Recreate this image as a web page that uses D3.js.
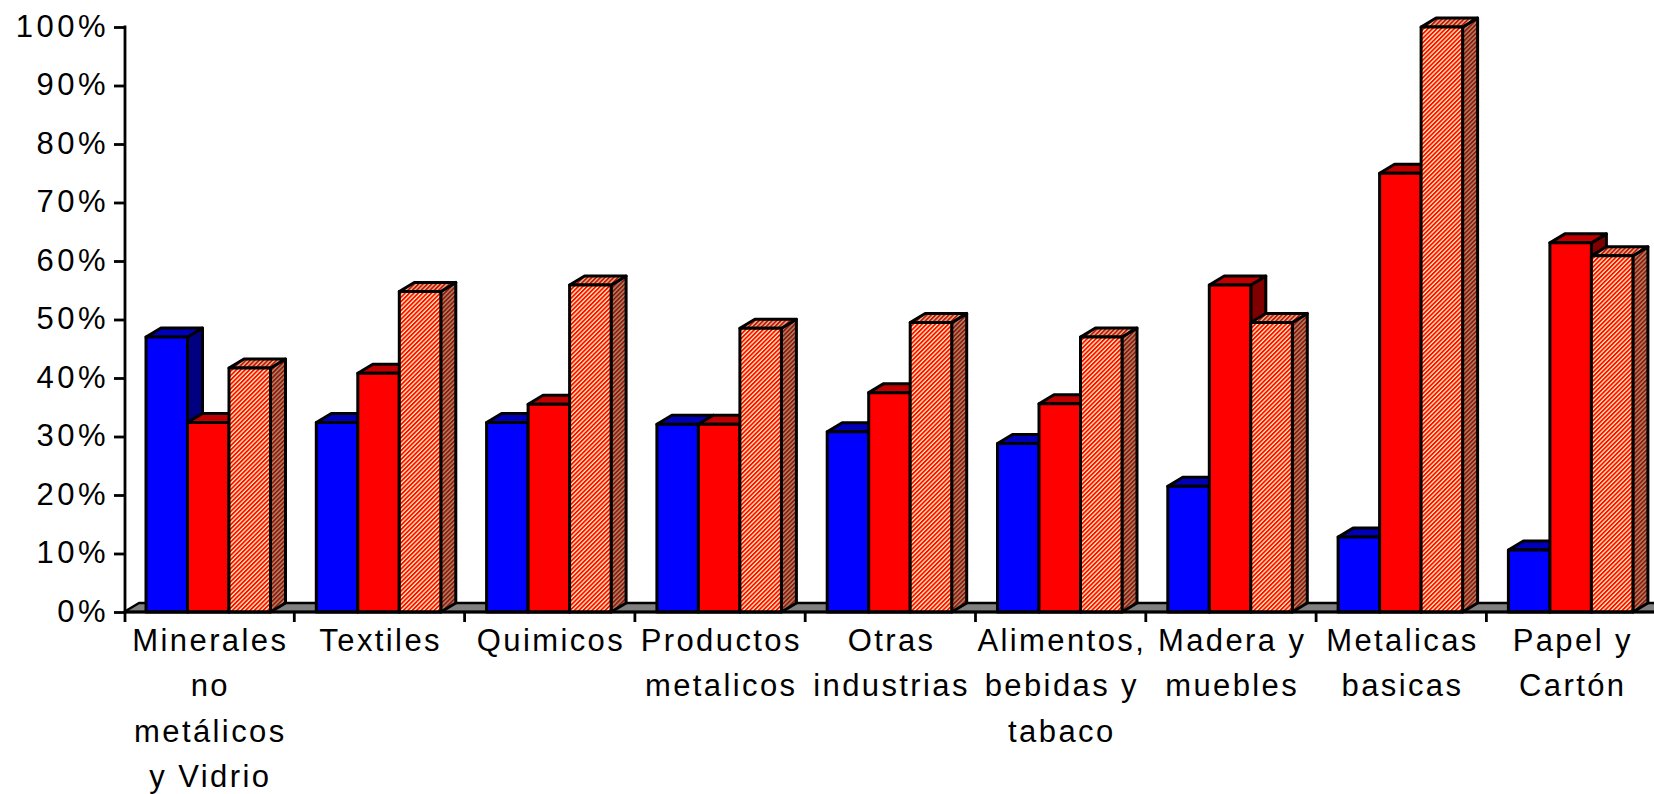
<!DOCTYPE html>
<html>
<head>
<meta charset="utf-8">
<script src="https://cdn.jsdelivr.net/npm/d3@7"></script>
<style>
  body { margin: 0; background: #fff; }
  svg text { font-family: "Liberation Sans", Arial, sans-serif; fill: #000; }
</style>
</head>
<body>
<svg width="1654" height="794"></svg>
<script>
// categories (each label split in lines as in the picture)
var categories = ["Minerales no metálicos y Vidrio", "Textiles", "Quimicos", "Productos metalicos",
    "Otras industrias", "Alimentos, bebidas y tabaco", "Madera y muebles", "Metalicas basicas", "Papel y Cartón"];
var labelLines = [
    ["Minerales", "no", "metálicos", "y Vidrio"],
    ["Textiles"],
    ["Quimicos"],
    ["Productos", "metalicos"],
    ["Otras", "industrias"],
    ["Alimentos,", "bebidas y", "tabaco"],
    ["Madera y", "muebles"],
    ["Metalicas", "basicas"],
    ["Papel y", "Cartón"]
];
var series = ["s1", "s2", "s3"];
// values (share, 0..1)
var s1 = [0.470, 0.324, 0.324, 0.321, 0.308, 0.288, 0.215, 0.128, 0.106];
var s2 = [0.324, 0.408, 0.355, 0.321, 0.375, 0.356, 0.559, 0.750, 0.631];
var s3 = [0.417, 0.548, 0.559, 0.485, 0.495, 0.470, 0.495, 1.000, 0.609];
var yTicks = [0, 0.1, 0.2, 0.3, 0.4, 0.5, 0.6, 0.7, 0.8, 0.9, 1.0];

var svg = d3.select("svg");

// 3D depth offset
var dx = 15, dy = 9;

var x = d3.scaleBand()
    .domain(categories)
    .range([124, 124 + 9 * 170.3])
    .paddingInner(0).paddingOuter(0);

var xs = d3.scaleBand()
    .domain(series)
    .range([22, 22 + 124.5]);

var y = d3.scaleLinear()
    .domain([0, 1])
    .range([612, 27]);

// hatch patterns for third series
var defs = svg.append("defs");
function hatch(id, c1, c2) {
    var p = defs.append("pattern")
        .attr("id", id)
        .attr("patternUnits", "userSpaceOnUse")
        .attr("width", 3.1).attr("height", 10)
        .attr("patternTransform", "rotate(45)");
    p.append("rect").attr("width", 3.1).attr("height", 10).attr("fill", c2);
    p.append("rect").attr("width", 1.75).attr("height", 10).attr("fill", c1);
}
hatch("hFront", "#ff0a00", "#fff0b4");
hatch("hTop", "#d01000", "#d4c098");
hatch("hSide", "#9c1408", "#a09070");

var colors = {
    s1: { front: "#0000ff", top: "#0000bb", side: "#000080" },
    s2: { front: "#ff0000", top: "#c00000", side: "#800000" },
    s3: { front: "url(#hFront)", top: "url(#hTop)", side: "url(#hSide)" }
};

// floor
var x0 = x.range()[0], x1 = x.range()[1];
svg.append("path")
    .attr("d", "M" + x0 + "," + y(0) + "L" + x1 + "," + y(0) + "L" + (x1 + dx) + "," + (y(0) - dy) +
        "L" + (x0 + dx) + "," + (y(0) - dy) + "Z")
    .attr("fill", "#808080")
    .attr("stroke", "#000")
    .attr("stroke-width", 2.5)
    .attr("stroke-linejoin", "round");

// bars
var data = [];
categories.forEach(function (c, i) {
    data.push({ cat: c, s: "s1", v: s1[i] });
    data.push({ cat: c, s: "s2", v: s2[i] });
    data.push({ cat: c, s: "s3", v: s3[i] });
});

var bars = svg.append("g").selectAll("g")
    .data(data)
    .enter()
    .append("g");

bars.each(function (d) {
    var g = d3.select(this);
    var l = x(d.cat) + xs(d.s), r = l + xs.bandwidth();
    var t = y(d.v), b = y(0);
    var col = colors[d.s];
    g.append("path")
        .attr("d", "M" + r + "," + b + "L" + r + "," + t + "L" + (r + dx) + "," + (t - dy) + "L" + (r + dx) + "," + (b - dy) + "Z")
        .attr("fill", col.side);
    g.append("path")
        .attr("d", "M" + l + "," + t + "L" + (l + dx) + "," + (t - dy) + "L" + (r + dx) + "," + (t - dy) + "L" + r + "," + t + "Z")
        .attr("fill", col.top);
    g.append("rect")
        .attr("x", l).attr("y", t)
        .attr("width", r - l).attr("height", b - t)
        .attr("fill", col.front);
    g.selectAll("path, rect")
        .attr("stroke", "#000")
        .attr("stroke-width", 3)
        .attr("stroke-linejoin", "round");
});

// y axis
var yAxis = svg.append("g")
    .attr("transform", "translate(125,0)")
    .call(d3.axisLeft(y).tickValues(yTicks).tickFormat(d3.format(".0%")).tickSize(11).tickSizeOuter(0).tickPadding(8));
yAxis.select(".domain").remove();
yAxis.selectAll("line").attr("stroke", "#000").attr("stroke-width", 2.8);
yAxis.selectAll("text")
    .attr("font-size", 31)
    .attr("dy", null)
    .attr("y", 9)
    .style("letter-spacing", "3.5px")
    .attr("x", -16);
svg.append("line")
    .attr("x1", 125).attr("x2", 125)
    .attr("y1", y(1) - 1.4).attr("y2", y(0) + 10)
    .attr("stroke", "#000").attr("stroke-width", 2.8);

// x axis line and ticks at group boundaries
var bounds = d3.range(0, categories.length + 1).map(function (i) { return x0 + i * x.step(); });
svg.append("line")
    .attr("x1", 124).attr("x2", 1654)
    .attr("y1", y(0)).attr("y2", y(0))
    .attr("stroke", "#000").attr("stroke-width", 2.8);
svg.append("g").selectAll("line")
    .data(bounds.slice(1))
    .enter()
    .append("line")
    .attr("x1", function (d) { return d; }).attr("x2", function (d) { return d; })
    .attr("y1", y(0)).attr("y2", y(0) + 10)
    .attr("stroke", "#000").attr("stroke-width", 2.8);

// category labels
var labels = svg.append("g").selectAll("text")
    .data(categories)
    .enter()
    .append("text")
    .attr("text-anchor", "middle")
    .attr("font-size", 31)
    .style("letter-spacing", "2.4px");
labels.each(function (c, i) {
    var t = d3.select(this);
    labelLines[i].forEach(function (line, k) {
        t.append("tspan")
            .attr("x", x(c) + x.bandwidth() / 2 + 1.2)
            .attr("y", 651 + k * 45.3)
            .text(line);
    });
});
</script>
</body>
</html>
